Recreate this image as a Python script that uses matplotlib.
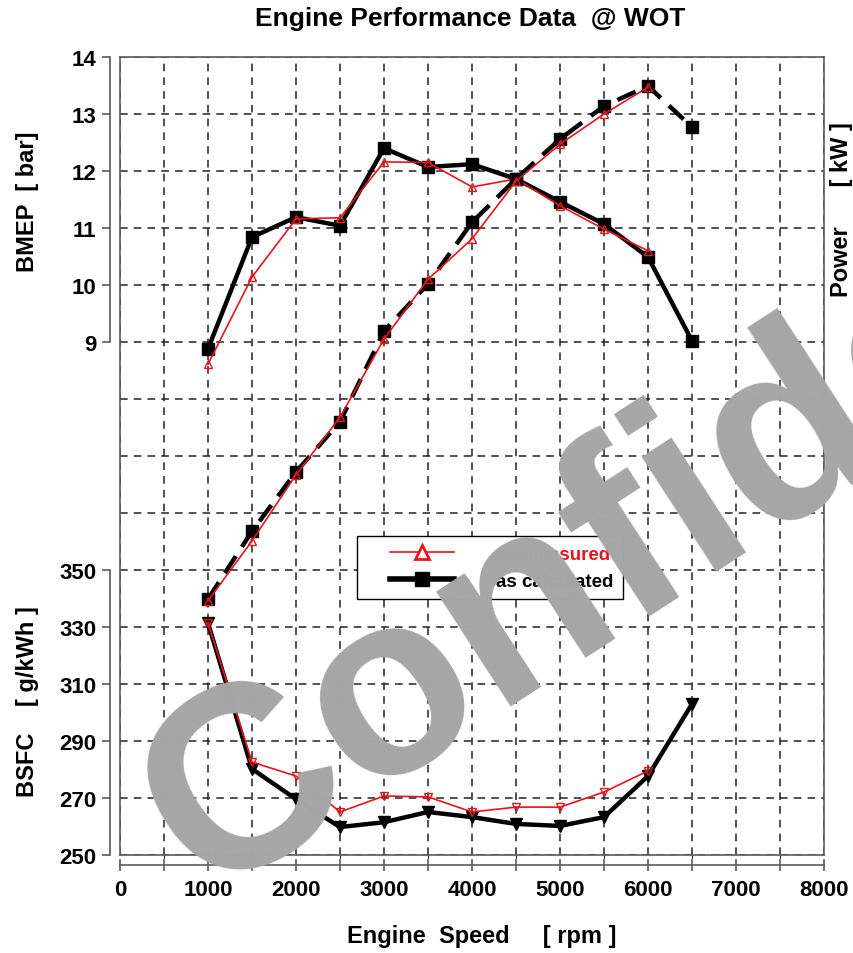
"""Engine performance chart: BMEP, power and BSFC against engine speed at WOT."""

import matplotlib

matplotlib.use("Agg")

import matplotlib.pyplot as plt
from matplotlib.legend_handler import HandlerLine2D
from matplotlib.lines import Line2D
from matplotlib.ticker import MultipleLocator

plt.rcParams["font.family"] = ["Liberation Sans", "DejaVu Sans"]
plt.rcParams["font.weight"] = "bold"

# engine speed points [rpm]
rpm_calc = [1000, 1500, 2000, 2500, 3000, 3500, 4000, 4500, 5000, 5500, 6000, 6500]
rpm_meas = [1000, 1500, 2000, 2500, 3000, 3500, 4000, 4500, 5000, 5500, 6000]

# BMEP [bar]
bmep_calc = [8.88, 10.84, 11.19, 11.04, 12.40, 12.07, 12.12, 11.86, 11.46, 11.07, 10.49, 9.02]
bmep_meas = [8.61, 10.14, 11.16, 11.18, 12.16, 12.15, 11.72, 11.86, 11.39, 10.98, 10.60]

# power [kW]
power_calc = [14.9, 26.8, 37.2, 46.0, 61.9, 70.2, 81.0, 88.6, 95.6, 101.4, 104.9, 97.7]
power_meas = [14.6, 25.1, 36.7, 46.8, 60.5, 71.0, 78.1, 88.2, 94.7, 100.0, 104.7]

# BSFC [g/kWh]
bsfc_calc = [331.4, 280.2, 269.6, 259.8, 261.5, 265.1, 263.3, 260.9, 260.2, 263.3, 277.7, 303.0]
bsfc_meas = [331.5, 282.6, 277.7, 265.1, 270.7, 270.4, 265.1, 266.8, 266.8, 272.1, 279.5]

bmep_ticks = [9, 10, 11, 12, 13, 14]
bsfc_ticks = [250, 270, 290, 310, 330, 350]

FIG_W, FIG_H = 854, 954
RED = "#e8141c"
FRAME = "#5a5a5a"
TICK_FS = 16
LABEL_FS = 17

fig = plt.figure(figsize=(FIG_W / 100, FIG_H / 100), dpi=100)
rect = [120 / FIG_W, 1 - 856 / FIG_H, 704 / FIG_W, 798 / FIG_H]

ax = fig.add_axes(rect)
ax_bsfc = fig.add_axes(rect, sharex=ax)
ax_pow = fig.add_axes(rect, sharex=ax)
for a in (ax_bsfc, ax_pow):
    a.patch.set_visible(False)

# shared grid: 14 rows, BMEP top half and BSFC bottom half
ax.set_xlim(0, 8000)
ax.set_ylim(0, 14)
ax_bsfc.set_ylim(250, 530)
ax_pow.set_ylim(-30, 110)

ax.xaxis.set_major_locator(MultipleLocator(1000))
ax.xaxis.set_minor_locator(MultipleLocator(500))
ax.set_yticks(bmep_ticks)
ax.set_yticks(range(0, 15), minor=True)
ax.grid(which="both", color="#222222", linestyle=(0, (5, 4)), linewidth=1.1)
ax.set_axisbelow(True)

for side in ("top", "right"):
    ax.spines[side].set_visible(False)
ax.spines["left"].set_position(("outward", 7))
ax.spines["left"].set_bounds(9, 14)
ax.spines["bottom"].set_position(("outward", 7))
ax.spines["bottom"].set_bounds(0, 8000)
for side in ("left", "bottom"):
    ax.spines[side].set_color(FRAME)
    ax.spines[side].set_linewidth(1.2)
ax.tick_params(axis="y", which="major", direction="out", length=6, width=1.2,
               color=FRAME, labelsize=TICK_FS, pad=4)
ax.tick_params(axis="y", which="minor", length=0)
ax.tick_params(axis="x", which="both", direction="inout", length=9, width=1.2,
               color=FRAME, labelsize=TICK_FS, pad=6)

ax_bsfc.set_yticks(bsfc_ticks)
for side in ("top", "right", "bottom"):
    ax_bsfc.spines[side].set_visible(False)
ax_bsfc.spines["left"].set_position(("outward", 7))
ax_bsfc.spines["left"].set_bounds(250, 350)
ax_bsfc.spines["left"].set_color(FRAME)
ax_bsfc.spines["left"].set_linewidth(1.2)
ax_bsfc.tick_params(axis="y", direction="out", length=6, width=1.2,
                    color=FRAME, labelsize=TICK_FS, pad=4)
ax_bsfc.tick_params(axis="x", bottom=False, labelbottom=False)

# power axis only carries the plot frame
for spine in ax_pow.spines.values():
    spine.set_color(FRAME)
    spine.set_linewidth(1.2)
ax_pow.tick_params(left=False, bottom=False, labelleft=False, labelbottom=False)

# measured (thin red) and calculated (thick black) curves
ax.plot(rpm_meas, bmep_meas, color=RED, lw=1.2, marker="^", ms=6,
        mfc="none", mec=RED, zorder=4)
ax.plot(rpm_calc, bmep_calc, color="black", lw=3.2, marker="s", ms=9, zorder=3)
ax_pow.plot(rpm_meas, power_meas, color=RED, lw=1.2, marker="^", ms=6,
            mfc="none", mec=RED, zorder=4)
ax_pow.plot(rpm_calc, power_calc, color="black", lw=3.2, ls=(0, (4.5, 2.5)),
            marker="s", ms=9, zorder=3)
ax_bsfc.plot(rpm_meas, bsfc_meas, color=RED, lw=1.2, marker="v", ms=6,
             mfc="none", mec=RED, zorder=4)
ax_bsfc.plot(rpm_calc, bsfc_calc, color="black", lw=3.2, marker="v", ms=9, zorder=3)

handles = [
    Line2D([], [], color=RED, lw=1.2, marker="^", ms=10, mfc="white", mec=RED, mew=2),
    Line2D([], [], color="black", lw=4, marker="s", ms=10),
]
leg = fig.legend(handles, ["as measured", "as calculated"], loc="upper left",
                 bbox_to_anchor=(357 / FIG_W, 1 - 537 / FIG_H), borderaxespad=0,
                 frameon=True, fancybox=False, framealpha=1, edgecolor="black",
                 prop={"size": 13.5, "weight": "bold"}, handlelength=4.7,
                 handletextpad=2.2, borderpad=0.5, labelspacing=0.55,
                 handler_map={Line2D: HandlerLine2D(xpad=1.25)})
leg.get_frame().set_linewidth(1.0)
leg.get_texts()[0].set_color(RED)

fig.text(470 / FIG_W, 1 - 19 / FIG_H, "Engine Performance Data  @ WOT",
         ha="center", va="center", fontsize=19, fontweight="bold")
fig.text(28 / FIG_W, 1 - 202 / FIG_H, "BMEP  [ bar]", rotation=90,
         ha="center", va="center", fontsize=LABEL_FS, fontweight="bold")
fig.text(28 / FIG_W, 1 - 702 / FIG_H, "BSFC    [ g/kWh ]", rotation=90,
         ha="center", va="center", fontsize=LABEL_FS, fontweight="bold")
fig.text(830 / FIG_W, 1 - 210 / FIG_H, "Power      [ kW ]", rotation=90,
         ha="left", va="center", fontsize=LABEL_FS, fontweight="bold")
fig.text(482 / FIG_W, 1 - 937 / FIG_H, "Engine  Speed     [ rpm ]",
         ha="center", va="center", fontsize=LABEL_FS, fontweight="bold")

# watermark stamped over everything
fig.text(205 / FIG_W, 1 - 898 / FIG_H, "Confidential", rotation=33,
         rotation_mode="anchor", ha="left", va="baseline", fontsize=187,
         fontweight="bold", color="#a6a6a6", zorder=10,
         family=["Liberation Sans", "DejaVu Sans"])

fig.savefig("out.png", dpi=100)
